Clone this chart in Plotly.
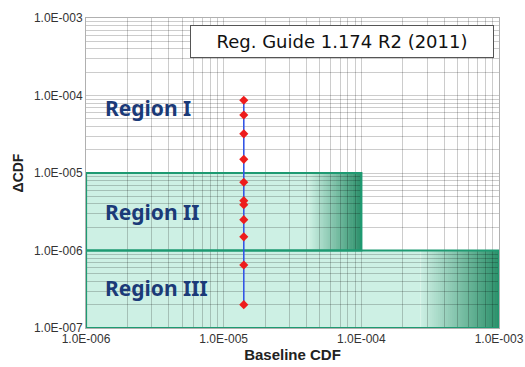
import math
import plotly.graph_objects as go

# ---- data ----
baseline_cdf = [1.4e-5] * 11
delta_cdf = [8.7e-5, 5.6e-5, 3.2e-5, 1.5e-5, 7.6e-6, 4.4e-6, 3.9e-6, 2.5e-6, 1.5e-6, 6.5e-7, 2.0e-7]

x_ticks = [1e-6, 1e-5, 1e-4, 1e-3]
x_tick_labels = ["1.0E-006", "1.0E-005", "1.0E-004", "1.0E-003"]
y_ticks = [1e-7, 1e-6, 1e-5, 1e-4, 1e-3]
y_tick_labels = ["1.0E-007", "1.0E-006", "1.0E-005", "1.0E-004", "1.0E-003"]

region_labels = ["Region I", "Region II", "Region III"]
region_label_y = [0.71, 0.374, 0.129]  # paper
shaded_x0 = [1e-6, 1e-6]
shaded_x1 = [1e-4, 1e-3]
shaded_y0 = [1e-6, 1e-7]
shaded_y1 = [1e-5, 1e-6]

title_box = "Reg. Guide 1.174 R2 (2011)"

# ---- styling ----
light = (205, 240, 228)
dark = (44, 144, 106)
border = "#1e9a72"
grid = "rgba(0,0,0,0.2)"
navy = "#1b3a78"


def all_ticks(lo, hi):
    vals = []
    for e in range(lo, hi):
        for d in range(1, 10):
            vals.append(d * 10.0 ** e)
    vals.append(10.0 ** hi)
    return vals


def make_axis_ticks(lo, hi, major_vals, major_text):
    vals = all_ticks(lo, hi)
    texts = []
    for v in vals:
        label = ""
        for mv, mt in zip(major_vals, major_text):
            if abs(math.log10(v) - math.log10(mv)) < 1e-9:
                label = mt
        texts.append(label)
    return vals, texts


xv, xt = make_axis_ticks(-6, -3, x_ticks, x_tick_labels)
yv, yt = make_axis_ticks(-7, -3, y_ticks, y_tick_labels)

shapes = []
for x0, x1, y0, y1 in zip(shaded_x0, shaded_x1, shaded_y0, shaded_y1):
    lx0, lx1 = math.log10(x0), math.log10(x1)
    start = lx0 + 0.81 * (lx1 - lx0)
    shapes.append(dict(type="rect", xref="x", yref="y", x0=x0, x1=10 ** start, y0=y0, y1=y1,
                       fillcolor="rgb(%d,%d,%d)" % light, line=dict(width=0), layer="below"))
    n = 40
    for i in range(n):
        a = start + (lx1 - start) * i / n
        b = start + (lx1 - start) * (i + 1.5) / n
        b = min(b, lx1)
        t = (i + 0.5) / n
        c = tuple(int(round(light[k] + (dark[k] - light[k]) * t)) for k in range(3))
        shapes.append(dict(type="rect", xref="x", yref="y", x0=10 ** a, x1=10 ** b, y0=y0, y1=y1,
                           fillcolor="rgb(%d,%d,%d)" % c, line=dict(width=0), layer="below"))
for x0, x1, y0, y1 in zip(shaded_x0, shaded_x1, shaded_y0, shaded_y1):
    shapes.append(dict(type="rect", xref="x", yref="y", x0=x0, x1=x1, y0=y0, y1=y1,
                       fillcolor="rgba(0,0,0,0)", line=dict(color=border, width=2.2), layer="between"))

fig = go.Figure()
fig.add_trace(go.Scatter(
    x=baseline_cdf, y=delta_cdf, mode="lines+markers",
    line=dict(color="#3355e6", width=1.6),
    marker=dict(symbol="diamond", color="#ee1c1c", size=7),
    showlegend=False, hoverinfo="skip"))

annotations = []
for lab, yy in zip(region_labels, region_label_y):
    annotations.append(dict(text="<b>%s</b>" % lab, xref="paper", yref="paper", x=0.041, y=yy,
                            xanchor="left", yanchor="middle", showarrow=False,
                            font=dict(family="Noto Sans", size=21, color=navy)))
annotations.append(dict(text=title_box, xref="paper", yref="paper", x=0.62, y=0.924,
                        xanchor="center", yanchor="middle", showarrow=False,
                        bgcolor="white", bordercolor="#555555", borderwidth=1, borderpad=5,
                        width=292,
                        font=dict(family="DejaVu Sans", size=18, color="#111111")))

fig.update_layout(
    width=525, height=367,
    margin=dict(l=86, r=26, t=18, b=39),
    paper_bgcolor="white", plot_bgcolor="white",
    shapes=shapes, annotations=annotations,
    font=dict(family="Liberation Sans", size=12, color="#333333"),
)
fig.update_xaxes(type="log", range=[-6, -3], tickvals=xv, ticktext=xt, tickangle=0,
                 automargin=False,
                 showgrid=True, gridcolor=grid, gridwidth=1, zeroline=False,
                 showline=True, linecolor="#b0b0b0", mirror=True, ticks="",
                 title=dict(text="<b>Baseline CDF</b>", font=dict(size=15, color="#222222"), standoff=2),
                 tickfont=dict(size=12))
fig.update_yaxes(type="log", range=[-7, -3], tickvals=yv, ticktext=yt,
                 automargin=False,
                 showgrid=True, gridcolor=grid, gridwidth=1, zeroline=False,
                 showline=True, linecolor="#b0b0b0", mirror=True, ticks="",
                 title=dict(text="<b>ΔCDF</b>", font=dict(size=14, color="#222222"), standoff=6),
                 tickfont=dict(size=12))

# remove the default page margin so the 525x367 figure fills the window exactly
fig.write_html("out.html", config={"displayModeBar": False},
               post_script="document.body.style.margin='0';")
